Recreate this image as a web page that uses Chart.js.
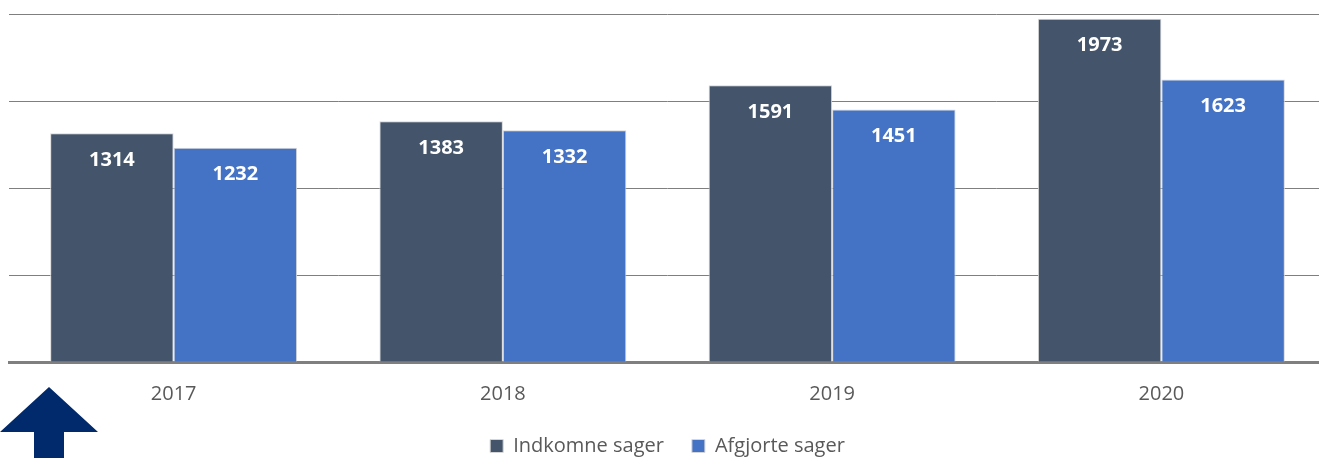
<!DOCTYPE html>
<html>
<head>
<meta charset="utf-8">
<script src="https://cdn.jsdelivr.net/npm/chart.js@4"></script>
<style>
  html, body { margin: 0; padding: 0; background: #fff; overflow: hidden; }
  #wrap { width: 1326px; height: 466px; position: relative; }
</style>
</head>
<body>
<div id="wrap"><canvas id="sagerChart"></canvas></div>
<script>
const years = ['2017', '2018', '2019', '2020'];
const indkomne = [1314, 1383, 1591, 1973];
const afgjorte = [1232, 1332, 1451, 1623];
const seriesNames = ['Indkomne sager', 'Afgjorte sager'];

// white numbers inside the top of each bar
const barLabels = {
  id: 'barLabels',
  afterDatasetsDraw(chart) {
    const ctx = chart.ctx;
    ctx.save();
    ctx.fillStyle = '#ffffff';
    ctx.font = 'bold 20px "Open Sans"';
    ctx.textAlign = 'center';
    ctx.textBaseline = 'middle';
    chart.data.datasets.forEach((ds, i) => {
      chart.getDatasetMeta(i).data.forEach((bar, j) => {
        ctx.fillText(ds.data[j], bar.x, bar.y + 27);
      });
    });
    ctx.restore();
  }
};

// the navy arrow in the lower left corner
const cornerArrow = {
  id: 'cornerArrow',
  afterDraw(chart) {
    const ctx = chart.ctx;
    ctx.save();
    ctx.fillStyle = '#002A6B';
    ctx.beginPath();
    ctx.moveTo(49, 387);
    ctx.lineTo(98, 432);
    ctx.lineTo(64, 432);
    ctx.lineTo(64, 466);
    ctx.lineTo(34, 466);
    ctx.lineTo(34, 432);
    ctx.lineTo(0, 432);
    ctx.closePath();
    ctx.fill();
    ctx.restore();
  }
};

new Chart(document.getElementById('sagerChart'), {
  type: 'bar',
  data: {
    labels: years,
    datasets: [{
      label: seriesNames[0],
      data: indkomne,
      backgroundColor: '#44546A',
      borderColor: '#d6d6d6',
      borderWidth: 1
    }, {
      label: seriesNames[1],
      data: afgjorte,
      backgroundColor: '#4472C4',
      borderColor: '#d6d6d6',
      borderWidth: 1
    }]
  },
  options: {
    responsive: true,
    maintainAspectRatio: false,
    animation: false,
    categoryPercentage: 0.75,
    barPercentage: 1.0,
    layout: { padding: { top: 14, left: 9, right: 0, bottom: 0 } },
    scales: {
      x: {
        grid: { display: false },
        border: { color: '#7f7f7f', width: 3 },
        ticks: { color: '#595959', font: { family: 'Open Sans', size: 20 }, padding: 12 },
        afterFit: (scale) => { scale.height -= 10; }
      },
      y: {
        min: 0,
        max: 2000,
        ticks: { display: false, stepSize: 500 },
        grid: { color: '#7f7f7f', drawTicks: false },
        border: { display: false }
      }
    },
    plugins: {
      legend: {
        position: 'bottom',
        labels: {
          color: '#595959',
          font: { family: 'Open Sans', size: 20 },
          boxWidth: 13,
          boxHeight: 13,
          padding: 28
        }
      },
      tooltip: { enabled: false }
    }
  },
  plugins: [barLabels, cornerArrow]
});
</script>
</body>
</html>
